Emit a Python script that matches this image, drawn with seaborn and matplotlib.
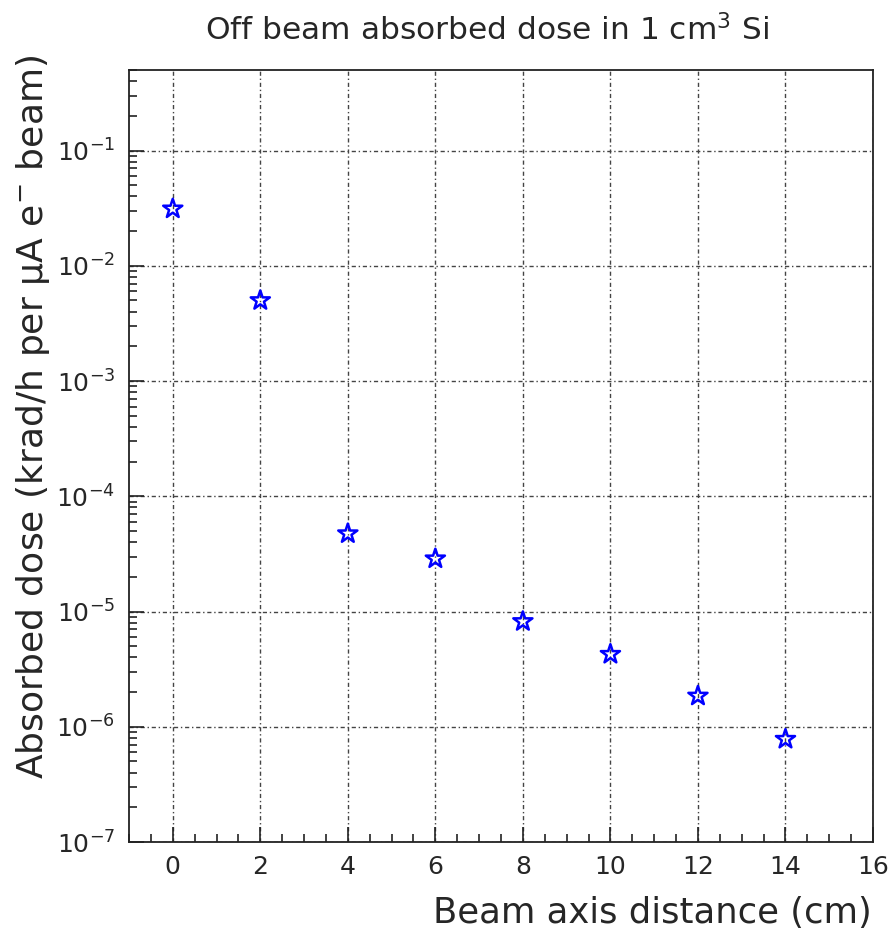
import numpy as np
import pandas as pd
import matplotlib
matplotlib.use("Agg")
import matplotlib.pyplot as plt
from matplotlib.ticker import MultipleLocator, NullFormatter
import seaborn as sns

# Distance from the beam axis (cm) and absorbed dose (krad/h per uA of e- beam)
distance_cm = [0, 2, 4, 6, 8, 10, 12, 14]
dose = [3.12e-2, 5.0e-3, 4.74e-5, 2.87e-5, 8.2e-6, 4.26e-6, 1.85e-6, 7.8e-7]

title = "Off beam absorbed dose in 1 cm$^{3}$ Si"
xlabel = "Beam axis distance (cm)"
ylabel = "Absorbed dose (krad/h per $\\mu$A e$^{-}$ beam)"

y_min, y_max = 1e-7, 0.5
decades = np.arange(-7, 0)

df = pd.DataFrame({"distance": distance_cm, "dose": dose})

sns.set_theme(style="white")
plt.rcParams["font.family"] = ["DejaVu Sans"]
plt.rcParams["mathtext.default"] = "regular"

W, H = 893, 933
fig = plt.figure(figsize=(W / 100, H / 100), dpi=100)
ax = fig.add_axes([129 / W, 1 - 842 / H, (873 - 129) / W, (842 - 70) / H])

sns.scatterplot(data=df, x="distance", y="dose", marker="*", s=210,
                color="#0000ff", linewidth=1.8, ax=ax, zorder=5)
for coll in ax.collections:
    coll.set_facecolor("none")
    coll.set_edgecolor("#0000ff")

ax.set_yscale("log")
ax.set_xlim(-1, 16)
ax.set_ylim(y_min, y_max)

ax.xaxis.set_major_locator(MultipleLocator(2))
ax.xaxis.set_minor_locator(MultipleLocator(0.5))
ax.xaxis.set_minor_formatter(NullFormatter())

major_y = [10.0 ** d for d in decades]
minor_y = [m * 10.0 ** d for d in decades for m in range(2, 10)
           if m * 10.0 ** d <= y_max]
ax.set_yticks(major_y)
ax.set_yticklabels([f"$10^{{{d}}}$" for d in decades])
ax.set_yticks(minor_y, minor=True)
ax.yaxis.set_minor_formatter(NullFormatter())

ax.grid(True, which="major", color="#444444", linestyle=(0, (3, 2, 1, 2)),
        linewidth=1.0)
ax.set_axisbelow(True)

ax.tick_params(axis="both", which="both", direction="in", bottom=True,
               left=True, top=False, right=False, color="#222222", width=1.2)
ax.tick_params(axis="x", which="major", length=11, labelsize=18, pad=9)
ax.tick_params(axis="x", which="minor", length=5.5)
ax.tick_params(axis="y", which="major", length=11, labelsize=18, pad=10)
ax.tick_params(axis="y", which="minor", length=6)

for sp in ax.spines.values():
    sp.set_color("#222222")
    sp.set_linewidth(1.3)

ax.set_xlabel("")
ax.set_ylabel("")

fig.text(487 / W, 1 - 30 / H, title, ha="center", va="center", fontsize=22.5)
fig.text(872 / W, 1 - 913 / H, xlabel, ha="right", va="center", fontsize=25.5)
fig.text(33 / W, 1 - 55 / H, ylabel, ha="center", va="top", rotation=90,
         fontsize=26)

fig.savefig("out.png", dpi=100)
